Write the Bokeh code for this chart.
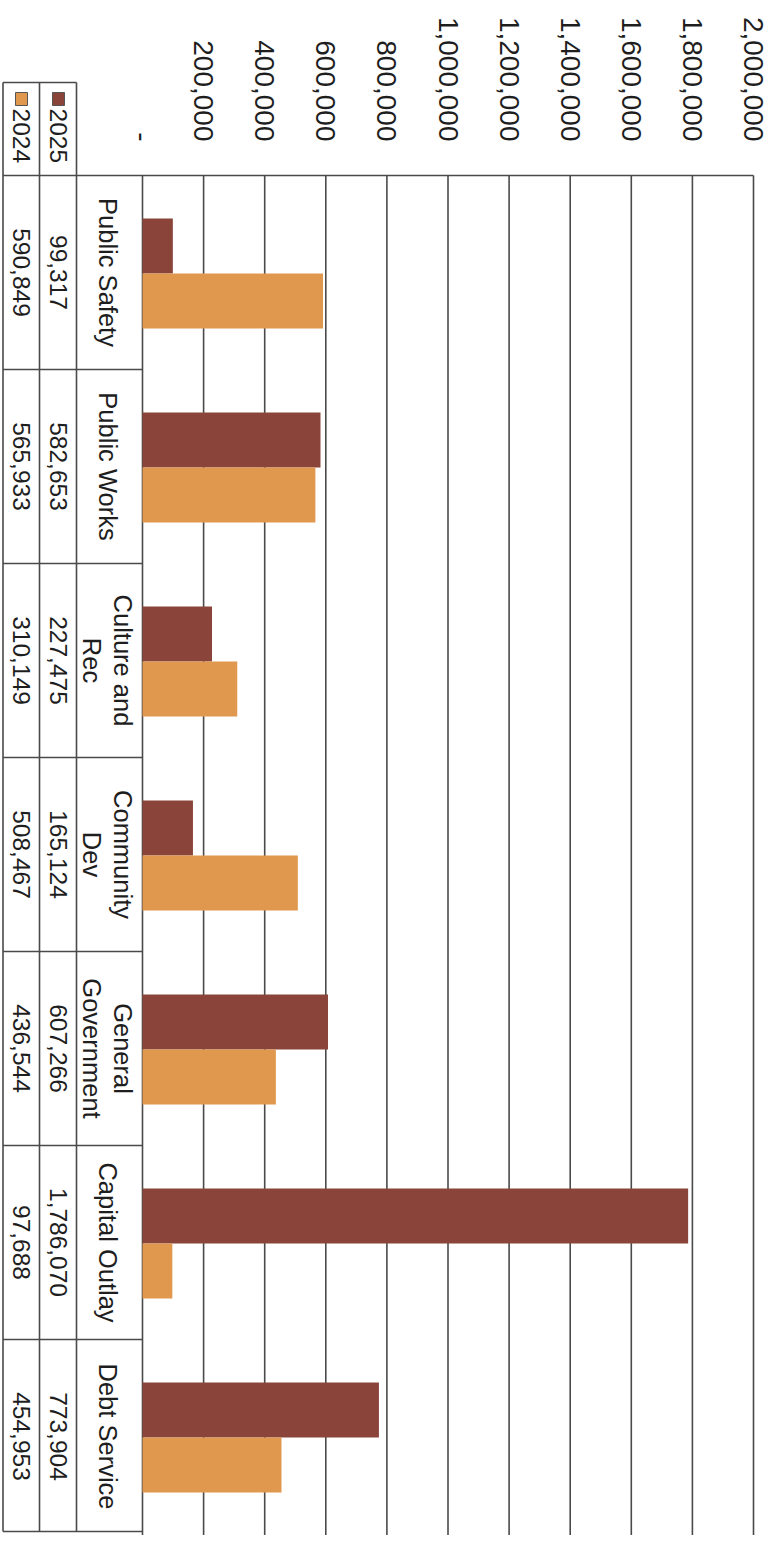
import math
from bokeh.plotting import figure
from bokeh.models import Range1d
from bokeh.core.properties import value
from bokeh.embed import file_html
from bokeh.resources import INLINE

# ---------------- data ----------------
categories = ["Public Safety", "Public Works", "Culture and Rec", "Community Dev",
              "General Government", "Capital Outlay", "Debt Service"]
category_labels = ["Public Safety", "Public Works", "Culture and\nRec", "Community\nDev",
                   "General\nGovernment", "Capital Outlay", "Debt Service"]
series_names = ["2025", "2024"]
values_2025 = [99317, 582653, 227475, 165124, 607266, 1786070, 773904]
values_2024 = [590849, 565933, 310149, 508467, 436544, 97688, 454953]
tick_values = [0, 200000, 400000, 600000, 800000, 1000000, 1200000, 1400000,
               1600000, 1800000, 2000000]
tick_labels = ["-", "200,000", "400,000", "600,000", "800,000", "1,000,000",
               "1,200,000", "1,400,000", "1,600,000", "1,800,000", "2,000,000"]

# ---------------- layout / style ----------------
W, H = 768, 1535
OFF = 0                      # figure-local origin
X_ZERO, X_MAX = 142, 753     # px of 0 and of the axis maximum
Y_TOP, BAND = 175, 194       # px of plot top, px per category
VMAX = tick_values[-1]
per_px = VMAX / (X_MAX - X_ZERO)
n = len(categories)

C2025 = "#8a4439"
C2024 = "#e0984e"
LINE = "#4a4a4a"
TXT = "#1e1e1e"
FONT = value("Liberation Sans")

x_start = -(X_ZERO - OFF) * per_px
x_end = VMAX + (OFF + W - X_MAX) * per_px
y_start = (OFF + H - Y_TOP) / BAND
y_end = (OFF - Y_TOP) / BAND

p = figure(width=W, height=H, output_backend="svg", toolbar_location=None,
           x_axis_type=None, y_axis_type=None, title=None, min_border=0,
           x_range=Range1d(x_start, x_end), y_range=Range1d(y_start, y_end))
p.outline_line_color = None
p.background_fill_color = "white"
p.border_fill_color = "white"
p.extra_x_ranges = {"px": Range1d(OFF, OFF + W)}
p.extra_y_ranges = {"py": Range1d(OFF + H, OFF)}

# ---------------- grid lines (value axis) ----------------
p.segment(x0=tick_values, x1=tick_values, y0=[Y_TOP] * len(tick_values),
          y1=[OFF + H] * len(tick_values), y_range_name="py",
          line_color=LINE, line_width=1.6)

# ---------------- bars ----------------
BAR_H = 0.2835
center = 0.505
y25 = [i + center - BAR_H / 2 for i in range(n)]
y24 = [i + center + BAR_H / 2 for i in range(n)]
p.hbar(y=y25, left=0, right=values_2025, height=BAR_H, fill_color=C2025, line_color=None)
p.hbar(y=y24, left=0, right=values_2024, height=BAR_H, fill_color=C2024, line_color=None)

# ---------------- table lines ----------------
COL_L, COL_1, COL_2 = 2.5, 39, 76
TAB_B = Y_TOP + n * BAND - 2
p.segment(x0=[COL_L, COL_1, COL_2], x1=[COL_L, COL_1, COL_2],
          y0=[82, 82, 82], y1=[TAB_B] * 3,
          x_range_name="px", y_range_name="py", line_color=LINE, line_width=1.6)
p.segment(x0=[COL_L, COL_L, COL_L], x1=[COL_2, X_MAX, X_ZERO], y0=[82, Y_TOP, TAB_B],
          y1=[82, Y_TOP, TAB_B],
          x_range_name="px", y_range_name="py", line_color=LINE, line_width=1.6)
edges = list(range(1, n))
p.segment(x0=[COL_L] * len(edges), x1=[X_ZERO] * len(edges), y0=edges, y1=edges,
          x_range_name="px", line_color=LINE, line_width=1.6)

# ---------------- texts ----------------
ANG = -math.pi / 2
p.text(x=tick_values, y=[141] * len(tick_values), text=tick_labels, y_range_name="py",
       angle=ANG, text_align="right", text_baseline="middle", text_font=FONT,
       text_font_size="28px", text_color=TXT)

cy = [i + 0.5 for i in range(n)]
p.text(x=[107] * n, y=cy, text=category_labels, x_range_name="px", angle=ANG,
       text_align="center", text_baseline="middle", text_font=FONT,
       text_font_size="25.5px", text_color=TXT, text_line_height=1.1)

p.text(x=[57.5] * n, y=cy, text=[f"{v:,}" for v in values_2025], x_range_name="px",
       angle=ANG, text_align="center", text_baseline="middle", text_font=FONT,
       text_font_size="24.5px", text_color=TXT)
p.text(x=[20.5] * n, y=cy, text=[f"{v:,}" for v in values_2024], x_range_name="px",
       angle=ANG, text_align="center", text_baseline="middle", text_font=FONT,
       text_font_size="24.5px", text_color=TXT)

# legend header
p.rect(x=[58, 21], y=[98.5, 98.5], width=12, height=13, x_range_name="px",
       y_range_name="py", fill_color=[C2025, C2024], line_color="#555555", line_width=1)
p.text(x=[57.5, 21], y=[108, 108], text=series_names, x_range_name="px",
       y_range_name="py", angle=ANG, text_align="left", text_baseline="middle",
       text_font=FONT, text_font_size="24.5px", text_color=TXT)

open("out.html", "w").write(file_html(p, INLINE))
